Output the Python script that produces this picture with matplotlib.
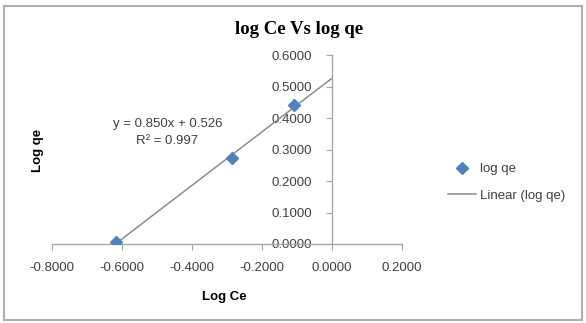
import numpy as np
import matplotlib
matplotlib.use("Agg")
import matplotlib.pyplot as plt
from matplotlib.patches import Rectangle

# Data
log_ce = [-0.6162, -0.2840, -0.1079]
log_qe = [0.0057, 0.2744, 0.4409]

x_ticks = [-0.8, -0.6, -0.4, -0.2, 0.0, 0.2]
y_ticks = [0.0, 0.1, 0.2, 0.3, 0.4, 0.5, 0.6]

eq_text = "y = 0.850x + 0.526\nR² = 0.997"

blue = "#4F81BD"
grey_line = "#8c8c8c"
axis_col = "#a6a6a6"
sans = "Liberation Sans"

fig = plt.figure(figsize=(5.86, 3.23), dpi=100)
fig.patch.set_facecolor("white")

# chart border
fig.patches.append(Rectangle((0.006, 0.01), 0.988, 0.972, transform=fig.transFigure,
                             fill=False, edgecolor="#b0b0b0", linewidth=1.5))

ax = fig.add_axes([0.0887, 0.2446, 0.597, 0.585])

# markers first so the legend lists them first
ax.plot(log_ce, log_qe, linestyle="none", marker="D", markersize=6.5, color=blue,
        markeredgecolor=blue, label="log qe", zorder=3)

# linear trendline, forecast forward to x = 0
slope, intercept = np.polyfit(log_ce, log_qe, 1)
xs = np.array([min(log_ce), 0.0])
ax.plot(xs, slope * xs + intercept, color=grey_line, linewidth=1.1, label="Linear (log qe)", zorder=2)

ax.set_xlim(-0.8, 0.2)
ax.set_ylim(0, 0.6)
ax.set_xticks(x_ticks)
ax.set_yticks(y_ticks)
ax.set_xticklabels([f"{v:.4f}" for v in x_ticks])
ax.set_yticklabels([f"{v:.4f}" for v in y_ticks])

for s in ["top", "right"]:
    ax.spines[s].set_visible(False)
ax.spines["left"].set_position(("data", 0))
ax.spines["bottom"].set_position(("data", 0))
for s in ["left", "bottom"]:
    ax.spines[s].set_color(axis_col)
    ax.spines[s].set_linewidth(1.0)

ax.tick_params(axis="both", direction="out", length=4, color=axis_col,
               labelsize=9.5, labelcolor="#404040")
ax.tick_params(axis="x", pad=9)
ax.tick_params(axis="y", pad=10)
for lbl in ax.get_xticklabels() + ax.get_yticklabels():
    lbl.set_fontfamily(sans)

ax.text(-0.47, 0.354, eq_text, ha="center", va="center", fontsize=9.5,
        color="#404040", family=sans, linespacing=1.5)

fig.text(0.51, 0.91, "log Ce Vs log qe", ha="center", va="center", fontsize=13.5,
         fontweight="bold", family="Liberation Serif")
fig.text(0.383, 0.08, "Log Ce", ha="center", va="center", fontsize=9.5,
         fontweight="bold", family=sans)
fig.text(0.064, 0.535, "Log qe", ha="center", va="center", fontsize=9.5,
         fontweight="bold", family=sans, rotation=90)

leg = fig.legend(loc="center left", bbox_to_anchor=(0.745, 0.435), frameon=False,
                 prop={"family": sans, "size": 9.5}, handlelength=2.1,
                 labelspacing=1.1, handletextpad=0.3)
for t in leg.get_texts():
    t.set_color("#404040")

fig.savefig("out.png", dpi=100)
